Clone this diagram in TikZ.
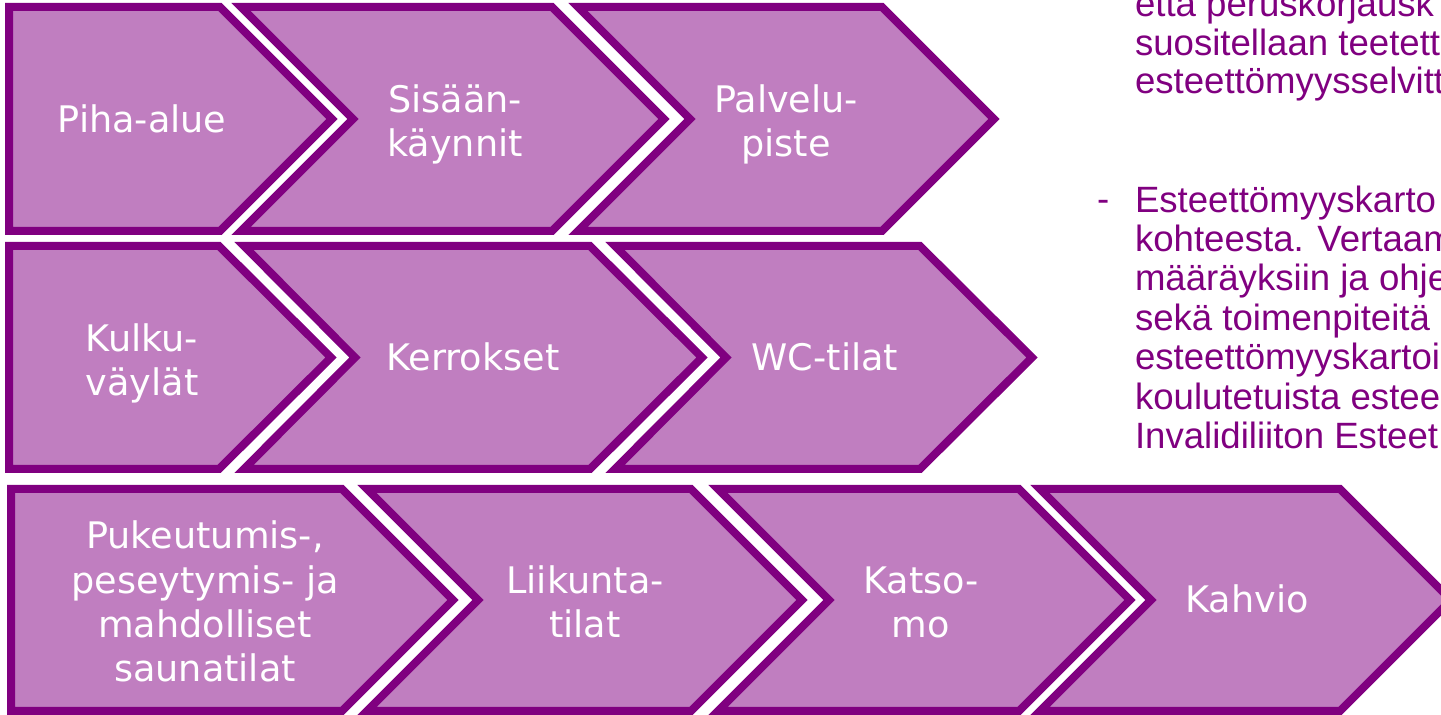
\documentclass[tikz,border=0pt]{standalone}
\usepackage{fontspec}
\setmainfont{DejaVu Sans}
\newfontfamily\arialfont{Liberation Sans}
\definecolor{chevfill}{RGB}{192,126,192}
\definecolor{chevline}{RGB}{128,0,128}
\newcommand\ChevFirst[5]{%
  \draw[chev] (#1,#4) -- (#2,#4) -- (#3,{(#4+#5)/2}) -- (#2,#5) -- (#1,#5) -- cycle;}
\newcommand\ChevNext[6]{%
  \draw[chev] (#1,#5) -- (#3,#5) -- (#4,{(#5+#6)/2}) -- (#3,#6) -- (#1,#6) -- (#2,{(#5+#6)/2}) -- cycle;}
\begin{document}
\begin{tikzpicture}[x=0.5pt,y=-0.5pt,
  chev/.style={fill=chevfill, draw=chevline, line width=4pt, line join=miter},
  lbl/.style={text=white, font=\fontsize{18.3}{22.2}\selectfont, align=center, anchor=base, inner sep=0pt, outer sep=0pt},
  side/.style={text=chevline, font=\arialfont\fontsize{18.3}{19.7}\selectfont, align=left, anchor=base west, inner sep=0pt, outer sep=0pt}]
\useasboundingbox (0,0) rectangle (1441,715);
\begin{scope}
\clip (0,0) rectangle (1441,715);
% row 1
\ChevFirst{9}{220}{332}{7}{231}
\ChevNext{241}{353}{552}{664}{7}{231}
\ChevNext{578}{690}{882}{994}{7}{231}
% row 2
\ChevFirst{9}{219}{331}{246}{469}
\ChevNext{244}{355}{590}{702}{246}{469}
\ChevNext{615}{726}{920}{1032}{246}{469}
% row 3
\ChevFirst{11}{342}{453}{489}{711}
\ChevNext{367}{478}{691}{802}{489}{711}
\ChevNext{718}{829}{1019}{1130}{489}{711}
\ChevNext{1040}{1151}{1340}{1451}{489}{711}
% labels (anchor = baseline of the last line)
\node[lbl] (piha) at (142,133) {Piha-alue};
\node[lbl] (sisaan) at (455,156.5) {Sisään-\\käynnit};
\node[lbl] (palvelu) at (786,156.5) {Palvelu-\\piste};
\node[lbl] (kulku) at (142,396) {Kulku-\\väylät};
\node[lbl] (kerrokset) at (473,371) {Kerrokset};
\node[lbl] (wc) at (825,371) {WC-tilat};
\node[lbl] (pukeutumis) at (205,682) {Pukeutumis-,\\peseytymis- ja\\mahdolliset\\saunatilat};
\node[lbl] (liikunta) at (585,637.5) {Liikunta-\\tilat};
\node[lbl] (katso) at (921,637.5) {Katso-\\mo};
\node[lbl] (kahvio) at (1247,613) {Kahvio};
% side text
\node[side, font=\arialfont\fontsize{18.3}{19.25}\selectfont] (para1) at (1135,94) {että peruskorjausk\\suositellaan teetett\\esteettömyysselvitt};
\node[side] (dash) at (1097,212) {-};
\node[side] (para2) at (1135,448.5) {Esteettömyyskarto\\kohteesta. Vertaam\\määräyksiin ja ohje\\sekä toimenpiteitä\\esteettömyyskartoi\\koulutetuista estee\\Invalidiliiton Esteet};
\end{scope}
\end{tikzpicture}
\end{document}
